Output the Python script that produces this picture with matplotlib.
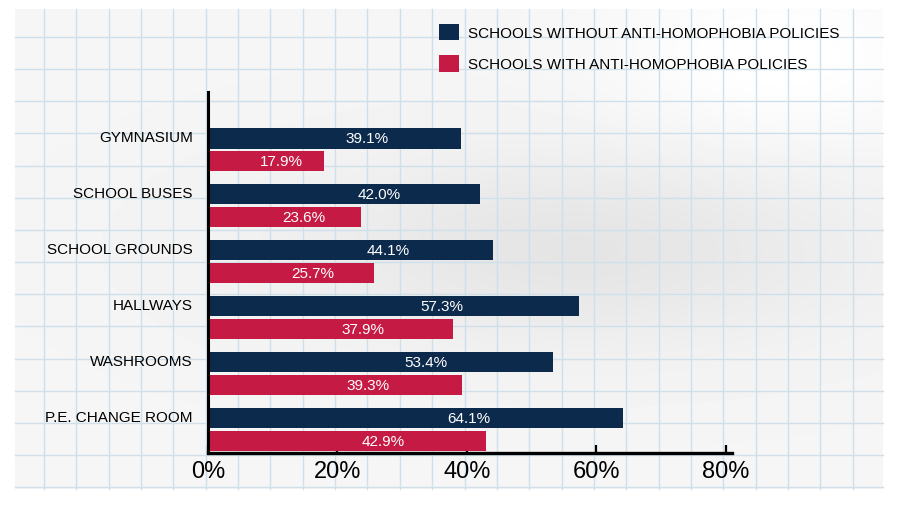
import matplotlib
matplotlib.use('Agg')
import matplotlib.pyplot as plt
import numpy as np

# Data

categories = ['GYMNASIUM', 'SCHOOL BUSES', 'SCHOOL GROUNDS', 'HALLWAYS',
              'WASHROOMS', 'P.E. CHANGE ROOM']
without_policy = [39.1, 42.0, 44.1, 57.3, 53.4, 64.1]
with_policy = [17.9, 23.6, 25.7, 37.9, 39.3, 42.9]
series_names = ['SCHOOLS WITHOUT ANTI-HOMOPHOBIA POLICIES',
                'SCHOOLS WITH ANTI-HOMOPHOBIA POLICIES']
xticks = [0, 20, 40, 60, 80]

navy = '#0c2a4c'
red = '#c51a44'
font = ['DejaVu Sans Condensed', 'Liberation Sans Narrow', 'Liberation Sans',
        'DejaVu Sans']
plt.rcParams['font.family'] = font

fig = plt.figure(figsize=(9, 5.06), dpi=100)
fig.patch.set_facecolor('white')

# Graph paper background (pixel coords)
bg = fig.add_axes([0, 0, 1, 1], zorder=0)
bg.set_xlim(0, 900)
bg.set_ylim(506, 0)
bg.axis('off')
gx, gy = np.meshgrid(np.linspace(15, 883, 200), np.linspace(10, 490, 120))
shade = 0.962 - 0.065 * np.exp(-((gx - 580) / 300) ** 2 - ((gy - 250) / 100) ** 2)
shade += 0.04 * np.exp(-((gx - 780) / 170) ** 2 - ((gy - 60) / 90) ** 2)
shade = np.clip(shade, 0, 1)
bg.imshow(shade, cmap='gray', vmin=0, vmax=1, extent=(15, 883, 490, 10),
          aspect='auto', interpolation='bilinear')
for gxl in np.arange(44, 883, 32.35):
    bg.plot([gxl, gxl], [10, 490], color='#cfe0ea', lw=1.0)
for gyl in np.arange(38, 490, 32.15):
    bg.plot([15, 883], [gyl, gyl], color='#cfe0ea', lw=1.0)
bg.set_xlim(0, 900)
bg.set_ylim(506, 0)

# Main chart
ax = fig.add_axes([208 / 900, 1 - 454 / 506, 524 / 900, 361 / 506], zorder=1)
ax.patch.set_alpha(0)

y = np.arange(len(categories))
h = 0.36
b1 = ax.barh(y - 0.2, without_policy, height=h, color=navy,
             label=series_names[0], zorder=2)
b2 = ax.barh(y + 0.2, with_policy, height=h, color=red,
             label=series_names[1], zorder=2)

for bars, vals in ((b1, without_policy), (b2, with_policy)):
    for bar, v in zip(bars, vals):
        ax.text(v * 0.63, bar.get_y() + bar.get_height() / 2, f'{v:.1f}%',
                color='white', ha='center', va='center', fontsize=11,
                zorder=3)

ax.set_xlim(0, 81)
ax.set_ylim(5.42, -1.03)
ax.set_xticks(xticks)
ax.set_xticklabels([f'{t}%' for t in xticks], fontsize=17)
ax.set_yticks(y - 0.25)
ax.set_yticklabels(categories, fontsize=11)
ax.tick_params(axis='y', length=0, pad=11)
ax.tick_params(axis='x', direction='in', length=6, width=1.6, pad=5)

for s in ('top', 'right'):
    ax.spines[s].set_visible(False)
ax.spines['left'].set_linewidth(2.2)
ax.spines['bottom'].set_linewidth(2.4)

ax.legend(loc='upper left', bbox_to_anchor=(425 / 900, 1 - 11 / 506),
          bbox_transform=fig.transFigure, frameon=False, fontsize=11,
          handlelength=1.3, handleheight=1.3, handletextpad=0.6,
          labelspacing=0.95)

fig.savefig('out.png', dpi=100)
